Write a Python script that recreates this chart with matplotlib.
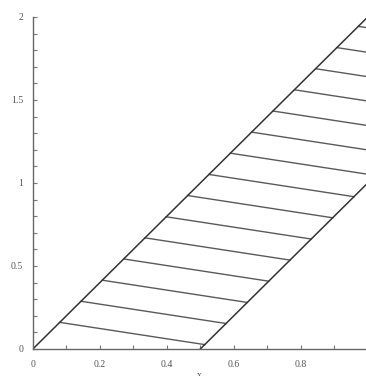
import matplotlib
matplotlib.use("Agg")
import matplotlib.pyplot as plt
from matplotlib.ticker import MultipleLocator, FixedLocator

# boundary lines of the strip
left_x = [0.0, 1.0]
left_y = [0.0, 2.0]
right_x = [0.5, 1.5]
right_y = [0.0, 2.0]

# hatch segments (start on left line, end on right line)
hatch_x0 = [0.080, 0.144, 0.207, 0.271, 0.335, 0.398, 0.462, 0.526,
            0.590, 0.653, 0.717, 0.781, 0.844, 0.908, 0.972]
hatch_y0 = [0.160, 0.287, 0.414, 0.542, 0.669, 0.796, 0.924, 1.051,
            1.179, 1.306, 1.433, 1.561, 1.688, 1.815, 1.943]
hatch_x1 = [0.513, 0.577, 0.640, 0.704, 0.768, 0.831, 0.895, 0.959,
            1.023, 1.086, 1.150, 1.214, 1.277, 1.341, 1.405]
hatch_y1 = [0.026, 0.153, 0.280, 0.408, 0.535, 0.662, 0.790, 0.917,
            1.045, 1.172, 1.299, 1.427, 1.554, 1.681, 1.809]

x_ticks = [0, 0.2, 0.4, 0.6, 0.8, 1]
x_labels = ["0", "0.2", "0.4", "0.6", "0.8", "1"]
y_ticks = [0, 0.5, 1, 1.5, 2]
y_labels = ["0", "0.5", "1", "1.5", "2"]

plt.rcParams["font.family"] = ["Liberation Serif", "DejaVu Serif"]

fig = plt.figure(figsize=(3.66, 3.76), dpi=100)
ax = fig.add_axes([0.090, 0.072, 0.915, 0.883])

for x0, y0, x1, y1 in zip(hatch_x0, hatch_y0, hatch_x1, hatch_y1):
    ax.plot([x0, x1], [y0, y1], color="#5a5a5a", linewidth=1.0)
ax.plot(left_x, left_y, color="#333333", linewidth=1.1)
ax.plot(right_x, right_y, color="#333333", linewidth=1.1)

ax.set_xlim(0, 1)
ax.set_ylim(0, 2)
for side in ["top", "right"]:
    ax.spines[side].set_visible(False)
for side in ["left", "bottom"]:
    ax.spines[side].set_color("#666666")
    ax.spines[side].set_linewidth(1.0)

ax.xaxis.set_major_locator(FixedLocator(x_ticks))
ax.set_xticklabels(x_labels)
ax.xaxis.set_minor_locator(MultipleLocator(0.1))
ax.yaxis.set_major_locator(FixedLocator(y_ticks))
ax.set_yticklabels(y_labels)
ax.yaxis.set_minor_locator(MultipleLocator(0.1))
ax.tick_params(which="both", direction="in", length=3, width=0.8,
               color="#777777", labelsize=7, labelcolor="#555555")
ax.tick_params(axis="x", pad=8)
ax.tick_params(axis="y", pad=7)

fig.text(0.546, 0.0, "x", ha="center", va="center", fontsize=7, color="#555555")

fig.savefig("out.png", dpi=100)
